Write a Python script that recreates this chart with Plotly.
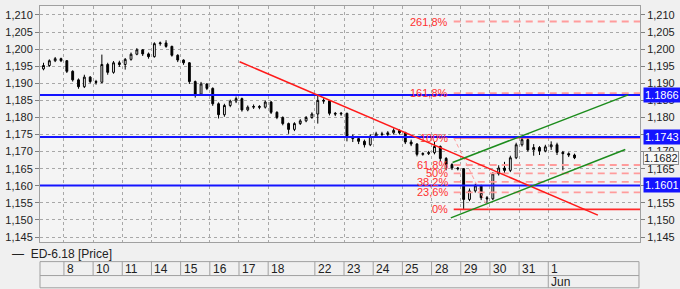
import plotly.graph_objects as go

# ---------------- data ----------------
day_labels = ["8", "10", "11", "14", "15", "16", "17", "18", "22", "23", "24",
              "25", "28", "29", "30", "31", "1"]
day_start_bar = [4, 9, 14, 19, 24, 29, 34, 39, 47, 52, 57, 62, 67, 72, 77, 82, 87]
month_label = "Jun"
month_start_bar = 87

open_ = [1.1942, 1.1952, 1.1966, 1.1972, 1.1966, 1.1935, 1.1910, 1.1890, 1.1918, 1.1905,
         1.1903, 1.1955, 1.1932, 1.1960, 1.1955, 1.1970, 1.1985, 1.1998, 1.1986, 1.1978,
         1.2016, 1.2018, 1.2008, 1.1982, 1.1968, 1.1960, 1.1905, 1.1868, 1.1898, 1.1885,
         1.1840, 1.1808, 1.1835, 1.1848, 1.1855, 1.1822, 1.1830, 1.1832, 1.1830, 1.1845,
         1.1815, 1.1800, 1.1782, 1.1765, 1.1782, 1.1790, 1.1800, 1.1810, 1.1850, 1.1848,
         1.1812, 1.1810, 1.1812, 1.1745, 1.1738, 1.1730, 1.1720, 1.1745, 1.1752, 1.1750,
         1.1755, 1.1762, 1.1755, 1.1728, 1.1722, 1.1692, 1.1694, 1.1697, 1.1715, 1.1680,
         1.1662, 1.1652, 1.1650, 1.1560, 1.1585, 1.1600, 1.1565, 1.1562, 1.1635, 1.1652,
         1.1645, 1.1682, 1.1720, 1.1735, 1.1705, 1.1712, 1.1702, 1.1714, 1.1720, 1.1698,
         1.1694, 1.1690]
high = [1.1960, 1.1970, 1.1977, 1.1975, 1.1968, 1.1938, 1.1914, 1.1925, 1.1921, 1.1910,
        1.1984, 1.1960, 1.1965, 1.1966, 1.1974, 1.1990, 1.2003, 1.2000, 1.1990, 1.2020,
        1.2022, 1.2026, 1.2010, 1.1985, 1.1970, 1.1962, 1.1908, 1.1904, 1.1900, 1.1888,
        1.1844, 1.1840, 1.1852, 1.1861, 1.1858, 1.1835, 1.1838, 1.1836, 1.1850, 1.1848,
        1.1818, 1.1803, 1.1785, 1.1786, 1.1795, 1.1804, 1.1815, 1.1866, 1.1856, 1.1850,
        1.1816, 1.1816, 1.1814, 1.1750, 1.1742, 1.1735, 1.1750, 1.1758, 1.1758, 1.1760,
        1.1768, 1.1765, 1.1758, 1.1735, 1.1725, 1.1698, 1.1702, 1.1728, 1.1718, 1.1684,
        1.1666, 1.1655, 1.1652, 1.1592, 1.1606, 1.1603, 1.1570, 1.1640, 1.1660, 1.1670,
        1.1688, 1.1726, 1.1745, 1.1738, 1.1722, 1.1716, 1.1720, 1.1730, 1.1726, 1.1702,
        1.1698, 1.1694]
low = [1.1938, 1.1948, 1.1962, 1.1962, 1.1930, 1.1905, 1.1884, 1.1886, 1.1900, 1.1896,
       1.1900, 1.1925, 1.1928, 1.1948, 1.1940, 1.1966, 1.1982, 1.1980, 1.1972, 1.1975,
       1.2010, 1.2004, 1.1978, 1.1962, 1.1954, 1.1898, 1.1858, 1.1864, 1.1880, 1.1834,
       1.1797, 1.1802, 1.1830, 1.1842, 1.1817, 1.1818, 1.1825, 1.1824, 1.1826, 1.1810,
       1.1795, 1.1777, 1.1752, 1.1760, 1.1778, 1.1786, 1.1796, 1.1782, 1.1840, 1.1806,
       1.1804, 1.1805, 1.1730, 1.1728, 1.1722, 1.1712, 1.1716, 1.1740, 1.1744, 1.1745,
       1.1750, 1.1750, 1.1722, 1.1716, 1.1686, 1.1688, 1.1690, 1.1692, 1.1672, 1.1645,
       1.1646, 1.1645, 1.1532, 1.1555, 1.1580, 1.1558, 1.1550, 1.1558, 1.1630, 1.1634,
       1.1640, 1.1678, 1.1715, 1.1700, 1.1688, 1.1690, 1.1698, 1.1705, 1.1690, 1.1645,
       1.1684, 1.1678]
close = [1.1952, 1.1966, 1.1972, 1.1966, 1.1935, 1.1910, 1.1890, 1.1918, 1.1905, 1.1903,
         1.1955, 1.1932, 1.1960, 1.1955, 1.1970, 1.1985, 1.1998, 1.1986, 1.1978, 1.2016,
         1.2018, 1.2008, 1.1982, 1.1968, 1.1960, 1.1905, 1.1868, 1.1898, 1.1885, 1.1840,
         1.1808, 1.1835, 1.1848, 1.1855, 1.1822, 1.1830, 1.1832, 1.1830, 1.1845, 1.1815,
         1.1800, 1.1782, 1.1765, 1.1782, 1.1790, 1.1800, 1.1810, 1.1850, 1.1848, 1.1812,
         1.1810, 1.1812, 1.1745, 1.1738, 1.1730, 1.1720, 1.1745, 1.1752, 1.1750, 1.1755,
         1.1762, 1.1755, 1.1728, 1.1722, 1.1692, 1.1694, 1.1697, 1.1715, 1.1680, 1.1662,
         1.1652, 1.1650, 1.1560, 1.1585, 1.1600, 1.1565, 1.1562, 1.1635, 1.1652, 1.1645,
         1.1682, 1.1720, 1.1735, 1.1705, 1.1712, 1.1702, 1.1714, 1.1720, 1.1698, 1.1694,
         1.1690, 1.1682]
bar_index = list(range(len(close)))

series_name = "ED-6.18 [Price]"
level_lines = [1.1866, 1.1743, 1.1601]
level_texts = ["1.1866", "1.1743", "1.1601"]
last_price = 1.1682
last_price_text = "1.1682"

trend_red_bars = [33.6, 95.0]
trend_red_prices = [1.1963, 1.1514]
channel_upper_bars = [70.1, 100.2]
channel_upper_prices = [1.1668, 1.1866]
channel_lower_bars = [69.8, 99.7]
channel_lower_prices = [1.1506, 1.1706]

fib_pcts = [0, 23.6, 38.2, 50, 61.8, 100, 161.8, 261.8]
fib_labels = ["0%", "23,6%", "38,2%", "50%", "61,8%", "100%", "161,8%", "261,8%"]
fib_high_bar, fib_high = 70.3, 1.1741
fib_low_bar, fib_low = 76.3, 1.1531

# ---------------- layout constants ----------------
X_RANGE = [-0.6, 102.22]
Y_RANGE = [1.14354, 1.21262]
FONT = "Liberation Sans, Arial, sans-serif"
TXT = "#222222"
GRID = "#a8a8a8"
BORDER = "#a0a0a0"

fig = go.Figure()

fig.add_trace(go.Candlestick(
    x=bar_index, open=open_, high=high, low=low, close=close,
    increasing=dict(line=dict(color="black", width=1), fillcolor="white"),
    decreasing=dict(line=dict(color="black", width=1), fillcolor="black"),
    whiskerwidth=0, showlegend=False, hoverinfo="skip", name=series_name))

# Fibonacci levels
fib_vals = [fib_low + p / 100.0 * (fib_high - fib_low) for p in fib_pcts]
for p, v in zip(fib_pcts, fib_vals):
    solid = p in (0, 100)
    fig.add_trace(go.Scatter(
        x=[fib_high_bar, X_RANGE[1]], y=[v, v], mode="lines",
        line=dict(color="#ff2a2a" if solid else "#ff9c9c", width=1.6 if solid else 1.8,
                  dash="solid" if solid else "7px,5px"),
        showlegend=False, hoverinfo="skip"))
fig.add_trace(go.Scatter(
    x=[fib_high_bar, fib_low_bar], y=[fib_high, fib_low], mode="lines",
    line=dict(color="#ff9c9c", width=1, dash="4px,3px"), showlegend=False, hoverinfo="skip"))

# horizontal support/resistance lines
for v in level_lines:
    fig.add_trace(go.Scatter(
        x=X_RANGE, y=[v, v], mode="lines", line=dict(color="#1414ff", width=2),
        showlegend=False, hoverinfo="skip"))

# trend lines
fig.add_trace(go.Scatter(x=trend_red_bars, y=trend_red_prices, mode="lines",
                         line=dict(color="#ff1a1a", width=1.5), showlegend=False, hoverinfo="skip"))
for bx, py in ((channel_upper_bars, channel_upper_prices), (channel_lower_bars, channel_lower_prices)):
    fig.add_trace(go.Scatter(x=bx, y=py, mode="lines",
                             line=dict(color="#1c8c1c", width=1.5), showlegend=False, hoverinfo="skip"))

# invisible trace for right axis
fig.add_trace(go.Scatter(x=[bar_index[0]], y=[close[0]], yaxis="y2", mode="markers",
                         marker=dict(opacity=0), showlegend=False, hoverinfo="skip"))

annotations = []
# fib labels
for lab, v in zip(fib_labels, fib_vals):
    annotations.append(dict(x=fib_high_bar, y=v, xref="x", yref="y", text=lab, showarrow=False,
                            xanchor="right", yanchor="middle", xshift=-4,
                            font=dict(family=FONT, size=11, color="#ff3030")))
# right-axis value boxes
for v, t in zip(level_lines, level_texts):
    annotations.append(dict(x=1.0, y=v, xref="paper", yref="y", text=t, showarrow=False,
                            xanchor="left", yanchor="middle", xshift=3,
                            bgcolor="#1414ff", borderpad=1,
                            font=dict(family=FONT, size=11, color="white")))
annotations.append(dict(x=1.0, y=last_price, xref="paper", yref="y", text=last_price_text,
                        showarrow=False, xanchor="left", yanchor="middle", xshift=3,
                        bgcolor="#f8f8f8", bordercolor="#909090", borderwidth=1, borderpad=0,
                        font=dict(family=FONT, size=11, color=TXT)))

# date table
ROW1_TOP, ROW_MID, ROW2_BOT = -0.0831, -0.1422, -0.1941
shapes = []
line_style = dict(color=BORDER, width=1)
shapes.append(dict(type="line", xref="paper", yref="paper", x0=0, x1=0.9983, y0=ROW1_TOP, y1=ROW1_TOP, line=line_style))
shapes.append(dict(type="line", xref="paper", yref="paper", x0=0, x1=0.9983, y0=ROW_MID, y1=ROW_MID, line=line_style))
shapes.append(dict(type="line", xref="paper", yref="paper", x0=0, x1=0.9983, y0=ROW2_BOT, y1=ROW2_BOT, line=line_style))
shapes.append(dict(type="line", xref="paper", yref="paper", x0=0, x1=0, y0=ROW1_TOP, y1=ROW2_BOT, line=line_style))
shapes.append(dict(type="line", xref="paper", yref="paper", x0=0.9983, x1=0.9983, y0=ROW1_TOP, y1=ROW2_BOT, line=line_style))
for lab, sb in zip(day_labels, day_start_bar):
    xs = sb - 0.5
    shapes.append(dict(type="line", xref="x", yref="paper", x0=xs, x1=xs, y0=ROW1_TOP, y1=ROW_MID, line=line_style))
    annotations.append(dict(x=xs, y=(ROW1_TOP + ROW_MID) / 2, xref="x", yref="paper", text=lab,
                            showarrow=False, xanchor="left", yanchor="middle", xshift=1,
                            font=dict(family=FONT, size=12, color=TXT)))
shapes.append(dict(type="line", xref="x", yref="paper", x0=month_start_bar - 0.5, x1=month_start_bar - 0.5,
                   y0=ROW_MID, y1=ROW2_BOT, line=line_style))
annotations.append(dict(x=month_start_bar - 0.5, y=(ROW_MID + ROW2_BOT) / 2, xref="x", yref="paper",
                        text=month_label, showarrow=False, xanchor="left", yanchor="middle", xshift=1,
                        font=dict(family=FONT, size=12, color=TXT)))
# legend text
annotations.append(dict(x=-0.05, y=-0.05, xref="paper", yref="paper", text="—  " + series_name,
                        showarrow=False, xanchor="left", yanchor="middle",
                        font=dict(family=FONT, size=12, color=TXT)))

yaxis_common = dict(range=Y_RANGE, tick0=1.145, dtick=0.005, tickformat=".3f",
                    ticks="outside", ticklen=4, tickcolor="#808080",
                    tickfont=dict(family=FONT, size=11, color=TXT))

fig.update_layout(
    width=680, height=289,
    margin=dict(l=38, r=40, t=5, b=47),
    paper_bgcolor="#f0f0f0", plot_bgcolor="#f4f4f4",
    separators=",.",
    showlegend=False,
    boxgap=0.55,
    xaxis=dict(range=X_RANGE, tickvals=[s - 0.5 for s in day_start_bar], showticklabels=False,
               ticks="", showgrid=True, gridcolor=GRID, griddash="dot", gridwidth=1,
               zeroline=False, showline=True, mirror=True, linecolor=BORDER, linewidth=1,
               rangeslider=dict(visible=False), fixedrange=True),
    yaxis=dict(**yaxis_common, side="left", showgrid=True, gridcolor=GRID, griddash="dot",
               zeroline=False, showline=True, mirror=True, linecolor=BORDER, linewidth=1),
    yaxis2=dict(**yaxis_common, side="right", overlaying="y", matches="y", showgrid=False,
                zeroline=False, showline=False),
    shapes=shapes, annotations=annotations,
)

fig.write_html("out.html", config={"displayModeBar": False})
